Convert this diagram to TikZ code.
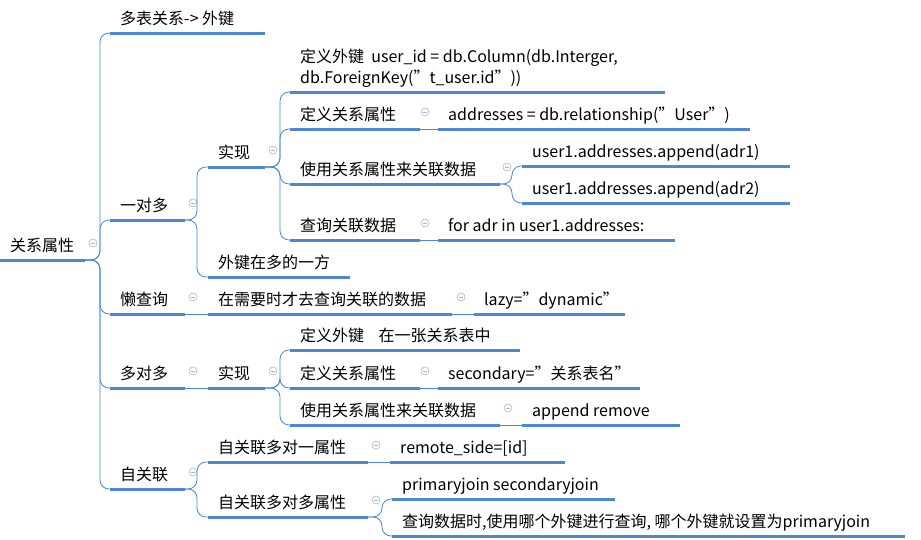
\documentclass[tikz,border=0pt]{standalone}
\usepackage{fontspec}
\setmainfont{Noto Sans CJK SC}
\definecolor{branchblue}{HTML}{4C86D4}
\definecolor{foldgray}{HTML}{A8B4CC}
\newcommand{\dq}{\symbol{34}}
\tikzset{
  topic/.style={anchor=base west, inner sep=0pt, font=\fontsize{16}{21}\selectfont, align=left},
  uline/.style={branchblue, line width=3pt},
  link/.style={branchblue, line width=0.8pt, rounded corners=9pt},
  fold/.style={circle, draw=foldgray, line width=0.6pt, minimum size=8pt, inner sep=0pt,
    path picture={\draw[foldgray, line width=0.6pt] ([xshift=-2pt]path picture bounding box.center) -- ([xshift=2pt]path picture bounding box.center);}},
}
% \topic{name}{left}{right}{y}{text}
\newcommand{\topic}[5]{%
  \coordinate (#1-l) at (#2,#4);
  \coordinate (#1-r) at (#3,#4);
  \node[topic] (#1) at (#2+10,#4-9) {#5};
  \draw[uline] (#1-l) -- (#1-r);
}
\newcommand{\linkto}[3]{\draw[link] (#1-r) -- (#2,0 |- #1-r) |- (#3-l);}
\begin{document}
\begin{tikzpicture}[x=1pt, y=-1pt]
\useasboundingbox (0,0) rectangle (921,539);
% root
\topic{root}{0}{85}{260}{关系属性}
\node[fold] (rootfold) at (93,243) {};
% level 1
\topic{multi}{110}{265}{33}{多表关系-> 外键}
\topic{onemany}{110}{185}{220}{一对多}
\topic{lazy}{110}{185}{314}{懒查询}
\topic{manymany}{110}{185}{388}{多对多}
\topic{selfref}{110}{185}{489}{自关联}
\foreach \c in {multi,onemany,lazy,manymany,selfref} {\linkto{root}{100}{\c}}
% one to many
\node[fold] (onemanyfold) at (193,203) {};
\topic{impl}{208}{265}{167}{实现}
\topic{fkside}{208}{350}{277}{外键在多的一方}
\foreach \c in {impl,fkside} {\linkto{onemany}{197}{\c}}
\node[fold] (implfold) at (273,150) {};
\topic{fkdef}{290}{665}{92}{定义外键\ \ user\_id = db.Column(db.Interger,\\db.ForeignKey(\dq t\_user.id\dq))}
\topic{reldef}{290}{420}{129}{定义关系属性}
\topic{reluse}{290}{500}{184}{使用关系属性来关联数据}
\topic{query}{290}{420}{240}{查询关联数据}
\foreach \c in {fkdef,reldef,reluse,query} {\linkto{impl}{280}{\c}}
\node[fold] (reldeffold) at (425,112) {};
\topic{relcode}{438}{750}{129}{addresses = db.relationship(\dq User\dq)}
\draw[link] (reldef-r) -- (relcode-l);
\node[fold] (reluse) at (507,167) {};
\topic{appendone}{522}{790}{166}{user1.addresses.append(adr1)}
\topic{appendtwo}{522}{790}{203}{user1.addresses.append(adr2)}
\foreach \c in {appendone,appendtwo} {\linkto{reluse}{512}{\c}}
\node[fold] (queryfold) at (425,223) {};
\topic{querycode}{438}{675}{240}{for adr in user1.addresses:}
\draw[link] (query-r) -- (querycode-l);
% lazy
\node[fold] (lazyfold) at (193,297) {};
\topic{lazywhen}{208}{452}{314}{在需要时才去查询关联的数据}
\draw[link] (lazy-r) -- (lazywhen-l);
\node[fold] (lazywhenfold) at (461,297) {};
\topic{lazycode}{474}{625}{314}{lazy=\dq dynamic\dq}
\draw[link] (lazywhen-r) -- (lazycode-l);
% many to many
\node[fold] (manymanyfold) at (193,371) {};
\topic{implmm}{208}{265}{388}{实现}
\draw[link] (manymany-r) -- (implmm-l);
\node[fold] (implmmfold) at (273,371) {};
\topic{fkmm}{290}{520}{350}{定义外键\ \ \ \ 在一张关系表中}
\topic{reldefmm}{290}{420}{388}{定义关系属性}
\topic{relusemm}{290}{500}{425}{使用关系属性来关联数据}
\foreach \c in {fkmm,reldefmm,relusemm} {\linkto{implmm}{280}{\c}}
\node[fold] (reldefmmfold) at (425,371) {};
\topic{secondary}{438}{640}{388}{secondary=\dq 关系表名\dq}
\draw[link] (reldefmm-r) -- (secondary-l);
\node[fold] (relusemmfold) at (508,408) {};
\topic{appendrm}{522}{680}{425}{append remove}
\draw[link] (relusemm-r) -- (appendrm-l);
% self reference
\node[fold] (selfreffold) at (193,472) {};
\topic{selfone}{208}{368}{462}{自关联多对一属性}
\topic{selfmany}{208}{368}{517}{自关联多对多属性}
\foreach \c in {selfone,selfmany} {\linkto{selfref}{197}{\c}}
\node[fold] (selfonefold) at (376,445) {};
\topic{remote}{390}{565}{462}{remote\_side=[id]}
\draw[link] (selfone-r) -- (remote-l);
\node[fold] (selfmanyfold) at (376,500) {};
\topic{joins}{392}{615}{499}{primaryjoin secondaryjoin}
\topic{joinhint}{392}{905}{536}{查询数据时,使用哪个外键进行查询, 哪个外键就设置为primaryjoin}
\foreach \c in {joins,joinhint} {\linkto{selfmany}{382}{\c}}
\end{tikzpicture}
\end{document}
